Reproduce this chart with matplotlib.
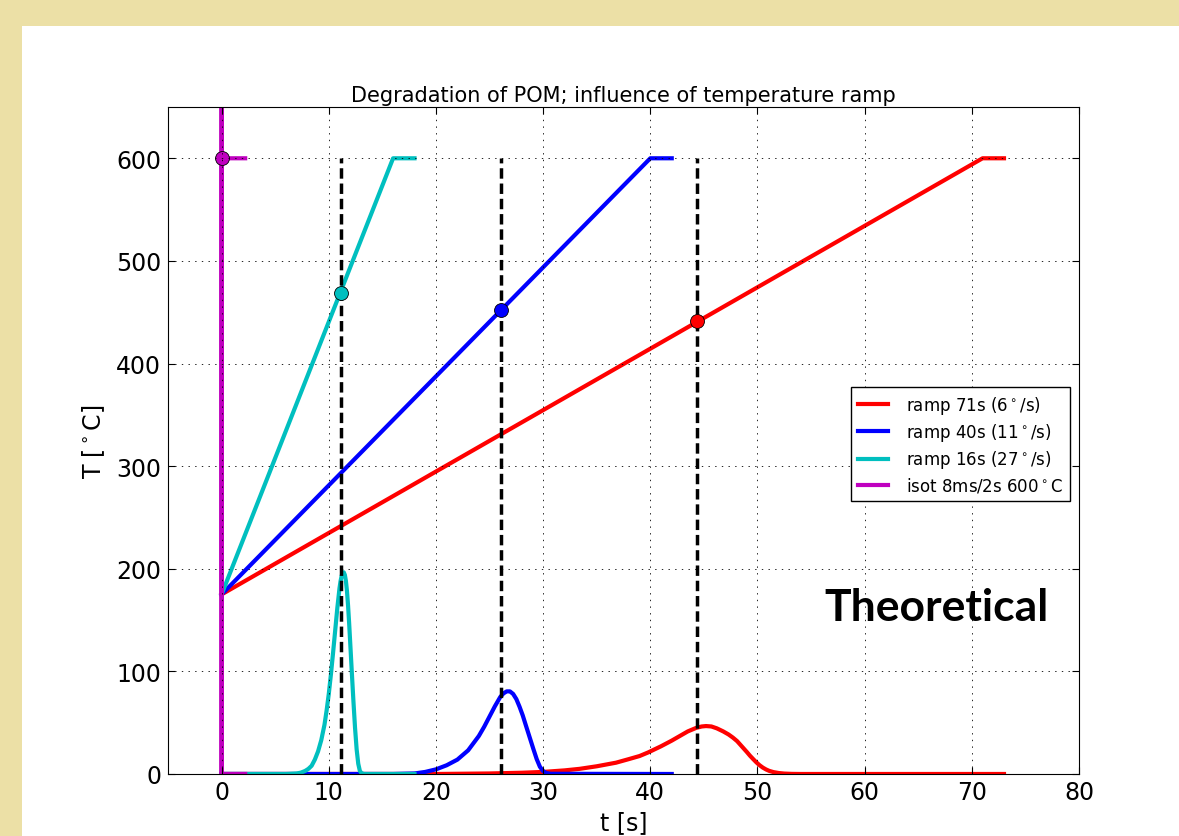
import matplotlib
matplotlib.use("Agg")
import matplotlib.pyplot as plt
from matplotlib.patches import Rectangle

# temperature programmes: (t, T) corner points
t_ramp71 = [0, 71, 73]
T_ramp71 = [175, 600, 600]
t_ramp40 = [0, 40, 42]
T_ramp40 = [175, 600, 600]
t_ramp16 = [0, 16, 18]
T_ramp16 = [175, 600, 600]
t_isot = [0, 0.008, 2.2]
T_isot = [175, 600, 600]

# degradation rate curves
t_rate71 = [0, 20, 25, 28, 30, 32, 33.4, 35, 36.8, 38, 39, 39.8, 41, 42, 42.75, 43.5,
            44.3, 44.8, 45.2, 45.7, 46.2, 46.8, 47.3, 47.7, 48.1, 48.4, 48.7, 49,
            49.3, 49.6, 49.9, 50.2, 50.5, 50.8, 51.1, 51.5, 52, 52.5, 53.2, 54, 73]
r_rate71 = [0, 0, 0.5, 1.2, 2, 3.5, 5, 7.5, 11, 14.5, 17.5, 21, 27, 32.5, 37, 41.5,
            45, 46.3, 46.7, 46.3, 44.5, 41.5, 38.5, 35.5, 32, 28.5, 25, 21.5,
            17.8, 14.5, 11.3, 8.5, 6.2, 4.4, 3, 1.8, 0.9, 0.4, 0.1, 0, 0]
t_rate40 = [0, 16, 18, 19, 20, 21, 22, 23, 24, 24.5, 25, 25.5, 26, 26.3, 26.6, 26.9,
            27.2, 27.5, 27.8, 28.1, 28.4, 28.75, 29.1, 29.4, 29.7, 30.0, 30.3, 30.7, 42]
r_rate40 = [0, 0, 0.5, 2, 4.5, 8.5, 14, 23, 37, 46, 56, 66, 75, 78.5, 80.5, 80.5,
            78, 73, 65.5, 57, 47, 35.5, 24, 14.5, 7, 2.8, 0.9, 0.2, 0]
t_rate16 = [0, 6, 7, 7.4, 7.8, 8.1, 8.4, 8.7, 9.0, 9.3, 9.6, 9.8, 10.0, 10.2, 10.4, 10.6,
            10.8, 11.0, 11.1, 11.2, 11.3, 11.4, 11.5, 11.6, 11.7, 11.8, 11.9, 12.0,
            12.15, 12.3, 12.45, 12.6, 12.75, 12.9, 13.05, 13.3, 18]
r_rate16 = [0, 0, 0.5, 1.3, 3, 5, 8, 14, 22, 33, 48, 62, 78, 97, 118, 140,
            162, 181, 188, 193, 196, 196.5, 194, 188, 178, 164, 147, 128,
            99, 71, 45, 24, 10, 3, 0.8, 0, 0]
t_rate_isot = [0, 0.004, 0.008, 2.2]
r_rate_isot = [0, 5000, 0, 0]

# peak positions
t_peak = [44.4, 26.1, 11.1]
T_peak = [441, 452, 469]

labels = ['ramp 71s (6$^\\circ$/s)', 'ramp 40s (11$^\\circ$/s)',
          'ramp 16s (27$^\\circ$/s)', 'isot 8ms/2s 600$^\\circ$C']
colors = ['r', 'b', 'c', 'm']

plt.rcParams['lines.scale_dashes'] = False

fig = plt.figure(figsize=(11.79, 8.37), dpi=100, facecolor='#ECE0A6')
fig.add_artist(Rectangle((22 / 1179, 0), 1, 1 - 27 / 837, transform=fig.transFigure,
                         facecolor='white', edgecolor='none', zorder=-1))
ax = fig.add_axes([0.1425, 0.0741, 0.7727, 0.7969])

ramps = [(t_ramp71, T_ramp71, t_rate71, r_rate71),
         (t_ramp40, T_ramp40, t_rate40, r_rate40),
         (t_ramp16, T_ramp16, t_rate16, r_rate16),
         (t_isot, T_isot, t_rate_isot, r_rate_isot)]
for (tt, TT, tr, rr), c, lab in zip(ramps, colors, labels):
    ax.plot(tt, TT, color=c, lw=3, label=lab)
    ax.plot(tr, rr, color=c, lw=3)

# dashed lines + markers at the peak
for tp, Tp, c in zip(t_peak, T_peak, colors[:3]):
    ax.plot([tp, tp], [0, 600], color='k', lw=2.5, dashes=(7.5, 3.5))
    ax.plot(tp, Tp, 'o', color=c, ms=10, mec='k', mew=0.6, zorder=4)
ax.plot(0, 600, 'o', color='m', ms=10, mec='k', mew=0.6)

ax.set_xlim(-5, 80)
ax.set_ylim(0, 650)
ax.set_xticks(range(0, 81, 10))
ax.set_yticks(range(0, 601, 100))
ax.set_axisbelow(False)
ax.grid(True, color='k', linestyle=(0, (1, 3.8)), linewidth=0.6)
ax.tick_params(direction='in', top=True, right=True, length=5, width=0.8, labelsize=17)
ax.tick_params(axis='x', pad=4)
ax.tick_params(axis='y', pad=5)

ax.set_title('Degradation of POM; influence of temperature ramp', fontsize=15, pad=4)
ax.set_xlabel('t [s]', fontsize=17, labelpad=5)
ax.set_ylabel('T [$^\\circ$C]', fontsize=17, labelpad=6)

leg = ax.legend(loc='upper right', bbox_to_anchor=(0.99, 0.58), fontsize=12,
                fancybox=False, framealpha=1, edgecolor='k', borderaxespad=0,
                handlelength=1.8, handletextpad=1.1, labelspacing=0.32)
leg.get_frame().set_linewidth(1.0)

ax.text(66.67, 149.6, 'Theoretical', family='Lato', fontweight='bold', fontsize=32,
        ha='center', va='baseline')

fig.savefig('out.png', dpi=100, facecolor=fig.get_facecolor())
